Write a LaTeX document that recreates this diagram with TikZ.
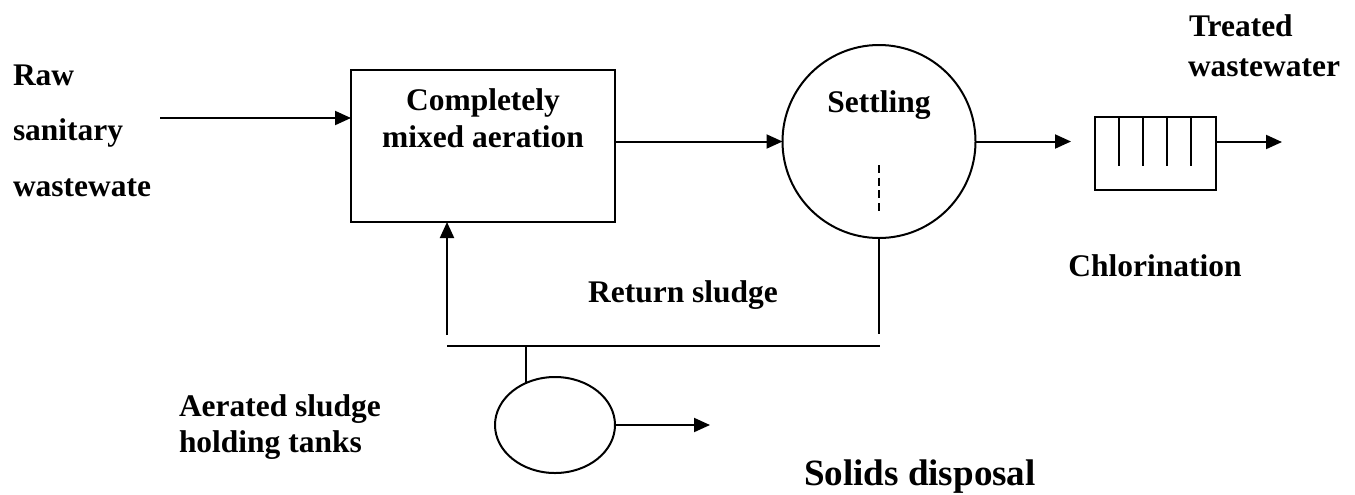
\documentclass[tikz,border=0pt]{standalone}
\usepackage{fontspec}
\setmainfont{Liberation Serif}
\usetikzlibrary{arrows.meta,shapes.geometric}

\tikzset{every picture/.style={line width=1.5pt}}
\tikzset{
  lbl/.style={inner sep=0pt, font=\fontsize{23.6}{28}\selectfont\bfseries},
  biglbl/.style={inner sep=0pt, font=\fontsize{27.8}{32}\selectfont\bfseries},
  flow/.style={-{Triangle[length=12pt,width=10.5pt]}},
  unit/.style={draw, inner sep=0pt, outer sep=0pt}
}

\begin{document}
\begin{tikzpicture}[x=0.75pt,y=0.75pt,yscale=-1,xscale=1]
\useasboundingbox (0,0) rectangle (1355,494);

%Tanks
\node[unit, rectangle, minimum width=198pt, minimum height=114pt] (aer) at (483,146) {};
\node[unit, circle, minimum size=144.75pt] (set) at (879,141.5) {};
\node[unit, rectangle, minimum width=90.75pt, minimum height=54.75pt] (chl) at (1155.5,153.5) {};
\node[unit, ellipse, minimum width=90pt, minimum height=72pt] (hold) at (555,425) {};

%Baffles of the contact tank
\foreach \bx in {1119,1143,1167,1191}
  \draw (\bx,117) -- (\bx,166);

%Sludge draw-off inside the clarifier
\draw [dash pattern=on 6pt off 3.5pt] (879,165) -- (879,214);

%Free ends of the lines
\coordinate (raw) at (160,118);
\coordinate (out) at (1282,142);
\coordinate (setdrop) at (879,334);
\coordinate (retL) at (447,346);
\coordinate (retR) at (880,346);
\coordinate (retup) at (447,335);
\coordinate (waste) at (710,425);

%Main flow
\draw [flow] (raw) -- (raw -| aer.west);
\draw [flow] (aer.east |- set.west) -- (set.west);
\draw [flow, shorten >=18pt] (set.east) -- (set.east -| chl.west);
\draw [flow] (chl.east |- out) -- (out);

%Return and waste sludge
\draw (set.south) -- (setdrop);
\draw (retL) -- (retR);
\draw [flow] (retup) -- (retup |- aer.south);
\draw (hold.125 |- retL) -- (hold.125);
\draw [flow] (hold.east) -- (waste);

% Text Node
\node[lbl, anchor=base west] (rawa) at (12,85) {Raw};
\node[lbl, anchor=base west] (rawb) at (12,140) {sanitary};
\node[lbl, anchor=base west] (rawc) at (12,196) {wastewate};
% Text Node
\node[lbl, anchor=base] (aera) at (483,110) {Completely};
\node[lbl, anchor=base] (aerb) at (483,147) {mixed aeration};
% Text Node
\node[lbl, anchor=base] (setl) at (879,112) {Settling};
% Text Node
\node[lbl, anchor=base west] (trta) at (1188,36) {Treated};
\node[lbl, anchor=base west] (trtb) at (1187,76) {wastewater};
% Text Node
\node[lbl, anchor=base] (chll) at (1155,276) {Chlorination};
% Text Node
\node[lbl, anchor=base] (retl) at (683,302) {Return sludge};
% Text Node
\node[lbl, anchor=base west] (holda) at (178,416) {Aerated sludge};
\node[lbl, anchor=base west] (holdb) at (178,452) {holding tanks};
% Text Node
\node[biglbl, anchor=base west] (disp) at (803,485) {Solids disposal};

\end{tikzpicture}
\end{document}
